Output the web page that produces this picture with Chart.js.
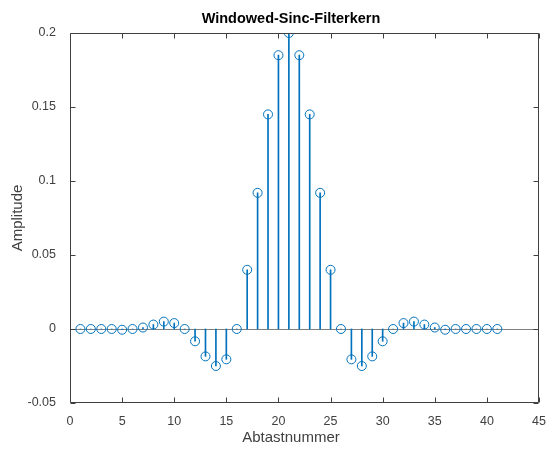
<!DOCTYPE html>
<html>
<head>
<meta charset="utf-8">
<script src="https://cdn.jsdelivr.net/npm/chart.js@4"></script>
<style>
  html, body { margin: 0; padding: 0; background: #fff; }
  #wrap { width: 547px; height: 450px; }
</style>
</head>
<body>
<div id="wrap"><canvas id="stem-chart" width="547" height="450"></canvas></div>
<script>
// sample numbers and filter kernel values
const samples = [1, 2, 3, 4, 5, 6, 7, 8, 9, 10, 11, 12, 13, 14, 15, 16, 17, 18, 19, 20, 21,
                 22, 23, 24, 25, 26, 27, 28, 29, 30, 31, 32, 33, 34, 35, 36, 37, 38, 39, 40, 41];
const kernel = [0, 0, 0, 0, -0.0005, 0, 0.001, 0.003, 0.005, 0.004, 0, -0.0083, -0.0185, -0.025, -0.0205, 0,
                0.04, 0.092, 0.145, 0.185, 0.2, 0.185, 0.145, 0.092, 0.04,
                0, -0.0205, -0.025, -0.0185, -0.0083, 0, 0.004, 0.005, 0.003, 0.001, -0.0005, 0, 0, 0, 0, 0];
const xTicks = [0, 5, 10, 15, 20, 25, 30, 35, 40, 45];
const yTicks = [-0.05, 0, 0.05, 0.1, 0.15, 0.2];
const yTickLabels = ['-0.05', '0', '0.05', '0.1', '0.15', '0.2'];

const points = samples.map((s, i) => ({ x: s, y: kernel[i] }));
const stemBlue = '#0072BD';
const axisColor = '#404040';
const fontFam = '"Liberation Sans", Arial, Helvetica, sans-serif';

// MATLAB-like box, inner ticks, baseline and texts
const matlabAxes = {
    id: 'matlabAxes',
    beforeDatasetsDraw(chart) {
        const { ctx, chartArea: a, scales } = chart;
        const y0 = Math.round(scales.y.getPixelForValue(0)) + 0.5;
        ctx.save();
        ctx.strokeStyle = '#808080';
        ctx.lineWidth = 1;
        ctx.beginPath();
        ctx.moveTo(a.left, y0);
        ctx.lineTo(a.right, y0);
        ctx.stroke();
        ctx.restore();
    },
    afterDraw(chart) {
        const { ctx, chartArea: a, scales } = chart;
        const L = Math.round(a.left) + 0.5, R = Math.round(a.right) - 0.5;
        const T = Math.round(a.top) + 0.5, B = Math.round(a.bottom) - 0.5;
        ctx.save();
        ctx.strokeStyle = axisColor;
        ctx.lineWidth = 1;
        ctx.beginPath();
        ctx.rect(L, T, R - L, B - T);
        xTicks.forEach(v => {
            const px = Math.round(scales.x.getPixelForValue(v)) + 0.5;
            ctx.moveTo(px, B); ctx.lineTo(px, B - 5);
            ctx.moveTo(px, T); ctx.lineTo(px, T + 5);
        });
        yTicks.forEach(v => {
            const py = Math.round(scales.y.getPixelForValue(v)) + 0.5;
            ctx.moveTo(L, py); ctx.lineTo(L + 5, py);
            ctx.moveTo(R, py); ctx.lineTo(R - 5, py);
        });
        ctx.stroke();

        ctx.fillStyle = '#000';
        ctx.textAlign = 'center';
        ctx.textBaseline = 'middle';
        ctx.font = 'bold 14.5px ' + fontFam;
        ctx.fillText('Windowed-Sinc-Filterkern', 291, 19);

        ctx.fillStyle = axisColor;
        ctx.font = '15px ' + fontFam;
        ctx.fillText('Abtastnummer', 291, 438);
        ctx.translate(18, 218);
        ctx.rotate(-Math.PI / 2);
        ctx.fillText('Amplitude', 0, 0);
        ctx.restore();
    }
};

const ctx = document.getElementById('stem-chart').getContext('2d');
new Chart(ctx, {
    type: 'scatter',
    data: {
        datasets: [
            {
                type: 'bar',
                label: 'stems',
                data: points,
                backgroundColor: stemBlue,
                borderWidth: 0,
                barThickness: 1,
                order: 2
            },
            {
                type: 'scatter',
                label: 'markers',
                data: points,
                pointStyle: 'circle',
                pointRadius: 4.5,
                pointBorderWidth: 1,
                pointBorderColor: stemBlue,
                pointBackgroundColor: 'rgba(0,0,0,0)',
                order: 1
            }
        ]
    },
    options: {
        responsive: false,
        animation: false,
        layout: { padding: { top: 33, right: 8, left: 0, bottom: 0 } },
        plugins: {
            legend: { display: false },
            tooltip: { enabled: false },
            title: { display: false }
        },
        scales: {
            x: {
                type: 'linear',
                min: 0,
                max: 45,
                offset: false,
                grid: { display: false },
                border: { display: false },
                afterBuildTicks: s => { s.ticks = xTicks.map(v => ({ value: v })); },
                afterFit: s => { s.height = 47; s.paddingRight = 0; s.paddingLeft = 0; },
                ticks: {
                    color: axisColor,
                    font: { family: fontFam, size: 12.5 },
                    maxRotation: 0,
                    padding: 3
                }
            },
            y: {
                type: 'linear',
                min: -0.05,
                max: 0.2,
                grid: { display: false },
                border: { display: false },
                afterBuildTicks: s => { s.ticks = yTicks.map(v => ({ value: v })); },
                afterFit: s => { s.width = 70; s.paddingTop = 0; s.paddingBottom = 0; },
                ticks: {
                    color: axisColor,
                    font: { family: fontFam, size: 12.5 },
                    padding: 6,
                    callback: (v) => yTickLabels[yTicks.indexOf(v)] ?? v
                }
            }
        }
    },
    plugins: [matlabAxes]
});
</script>
</body>
</html>
